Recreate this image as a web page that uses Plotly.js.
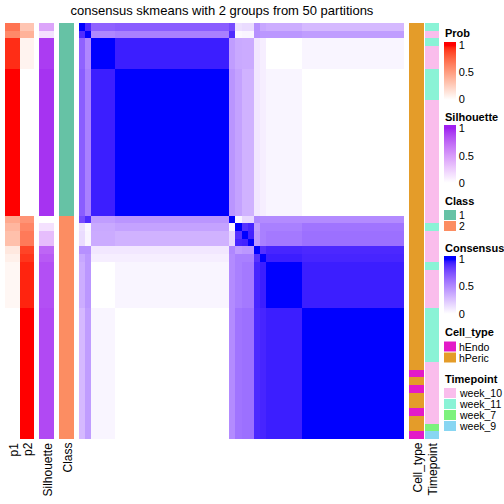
<!DOCTYPE html>
<html><head><meta charset="utf-8">
<script src="https://cdn.plot.ly/plotly-3.0.1.min.js"></script>
<style>html,body{margin:0;padding:0;background:#fff}#chart{width:504px;height:504px}</style>
</head><body><div id="chart"></div>
<script>
// ---------------- DATA ----------------
const titleText = 'consensus skmeans with 2 groups from 50 partitions';
// sample -> block group (rows/cols in displayed order)
const sampleGroup = [0,1,2,2,2,2,
  3,3,3,3,3,3,3,3,3,3,3,3,3,3,3,3,3,3,3,
  4,5,6,7,8,9,
  10,10,10,10,10,10,
  11,11,11,11,11,11,11,11,11,11,11,11,11,11,11,11,11];
// block-level consensus values (symmetric)
const groupConsensus = [
  [1.00,0.90,0.68,0.70,0.78,0.13,0.15,0.15,0.48,0.38,0.35,0.30],
  [0.90,1.00,0.52,0.55,0.90,0.03,0.04,0.04,0.48,0.45,0.45,0.42],
  [0.68,0.52,1.00,0.94,0.42,0.37,0.36,0.36,0.10,0.07,0.00,0.04],
  [0.70,0.55,0.94,1.00,0.46,0.40,0.33,0.33,0.10,0.07,0.04,0.00],
  [0.78,0.90,0.42,0.46,1.00,0.04,0.17,0.17,0.52,0.50,0.50,0.50],
  [0.13,0.03,0.37,0.40,0.04,1.00,0.88,0.92,0.42,0.55,0.55,0.60],
  [0.15,0.04,0.36,0.33,0.17,0.88,1.00,0.93,0.45,0.55,0.58,0.62],
  [0.15,0.04,0.36,0.33,0.17,0.92,0.93,1.00,0.45,0.55,0.58,0.62],
  [0.48,0.48,0.10,0.10,0.52,0.42,0.45,0.45,1.00,0.88,0.92,0.91],
  [0.38,0.45,0.07,0.07,0.50,0.55,0.55,0.55,0.88,1.00,0.94,0.92],
  [0.35,0.45,0.00,0.04,0.50,0.55,0.58,0.58,0.92,0.94,1.00,0.94],
  [0.30,0.42,0.04,0.00,0.50,0.60,0.62,0.62,0.91,0.92,0.94,1.00]
];
const groupP1 = [0.70,0.60,0.94,1.00,0.45,0.38,0.33,0.33,0.12,0.08,0.04,0.00];
const groupP2 = [0.30,0.40,0.06,0.00,0.55,0.62,0.67,0.67,0.88,0.92,0.96,1.00];
const groupSilhouette = [0.45,0.15,0.92,0.95,0.00,0.15,0.33,0.33,0.75,0.80,0.85,0.87];
const groupClass = [1,1,1,1,2,2,2,2,2,2,2,2];
const classLevels = ['1','2'];
const classColors = ['#66c2a5','#fc8d62'];
const cellTypeLevels = ['hEndo','hPeric'];
const cellTypeColors = ['#e31ac8','#e49c29'];
const cellTypeCode = [1,1,1,1,1,1,1,1,1,1,1,1,1,1,1,1,1,1,1,1,1,1,1,1,1,
  1,1,1,1,1,1,1,1,1,1,1,1,1,1,1,1,1,1,1,1,
  0,1,0,1,1,0,1,1,0];
const timepointLevels = ['week_10','week_11','week_7','week_9'];
const timepointColors = ['#fabdec','#8af3d6','#7cf27c','#88d6f2'];
const timepointCode = [1,0,1,0,0,0,1,1,1,1,
  0,0,0,0,0,0,0,0,0,0,0,0,0,0,0,0,
  1,0,0,0,0,1,0,0,0,0,0,
  1,1,1,1,1,1,1,
  0,0,0,0,0,0,0,0,
  2,3];
const legendTicks = [0,0.5,1];
const legendTickText = ['0','0.5','1'];
const annoLabelsLeft = ['p1','p2','Silhouette','Class'];
const annoLabelsRight = ['Cell_type','Timepoint'];

// ---------------- COLOUR HELPERS (LAB interpolation like colorRamp2) ----------------
function hex2rgb(h){h=h.replace('#','');return [0,2,4].map(i=>parseInt(h.substr(i,2),16));}
function s2l(c){c/=255;return c<=0.04045?c/12.92:Math.pow((c+0.055)/1.055,2.4);}
function l2s(c){c=Math.max(0,Math.min(1,c));return 255*(c<=0.0031308?12.92*c:1.055*Math.pow(c,1/2.4)-0.055);}
const Xn=0.95047,Yn=1,Zn=1.08883;
function labF(t){return t>0.008856?Math.cbrt(t):7.787*t+16/116;}
function labFinv(t){return t>0.206893?t*t*t:(t-16/116)/7.787;}
function rgb2lab(rgb){const [r,g,b]=rgb.map(s2l);
  const X=0.4124*r+0.3576*g+0.1805*b,Y=0.2126*r+0.7152*g+0.0722*b,Z=0.0193*r+0.1192*g+0.9505*b;
  const fx=labF(X/Xn),fy=labF(Y/Yn),fz=labF(Z/Zn);return [116*fy-16,500*(fx-fy),200*(fy-fz)];}
function lab2rgb(lab){const fy=(lab[0]+16)/116,fx=fy+lab[1]/500,fz=fy-lab[2]/200;
  const X=Xn*labFinv(fx),Y=Yn*labFinv(fy),Z=Zn*labFinv(fz);
  const r=3.2406*X-1.5372*Y-0.4986*Z,g=-0.9689*X+1.8758*Y+0.0415*Z,b=0.0557*X-0.2040*Y+1.0570*Z;
  return [r,g,b].map(l2s).map(Math.round);}
// colour bar range slightly wider than [0,1] so that ticks sit inside the bar like ComplexHeatmap
const ZMIN=-0.04, ZMAX=1.06;
function labScale(c0,c1,n){const a=rgb2lab(hex2rgb(c0)),b=rgb2lab(hex2rgb(c1));const out=[[0,c0]];
  for(let i=0;i<=n;i++){const t=i/n;const c=lab2rgb([0,1,2].map(k=>a[k]+(b[k]-a[k])*t));
    out.push([(t-ZMIN)/(ZMAX-ZMIN),'rgb('+c.join(',')+')']);}
  out.push([1,c1]);return out;}
function discreteScale(colors){const n=colors.length,out=[];
  colors.forEach((c,k)=>{out.push([k/n,c]);out.push([(k+1)/n,c]);});return out;}

const probScale = labScale('#ffffff','#ff0000',24);
const silScale = labScale('#ffffff','#a020f0',24);
const consScale = labScale('#ffffff','#0000ff',24);

// ---------------- GEOMETRY ----------------
const W=504,H=504;
const px=x=>x/W, py=y=>1-y/H;
const hmTop=23,hmBot=439;
const cols={p1:[5,20],p2:[20,34],sil:[39,54],cls:[59,74],hm:[79,404],ct:[409,424],tp:[425,439]};
const N=sampleGroup.length;
const idx=[...Array(N).keys()];

// expand block data to samples
const consensusZ = idx.map(i=>idx.map(j=>groupConsensus[sampleGroup[i]][sampleGroup[j]]));
const p1 = idx.map(i=>[groupP1[sampleGroup[i]]]);
const p2 = idx.map(i=>[groupP2[sampleGroup[i]]]);
const sil = idx.map(i=>[groupSilhouette[sampleGroup[i]]]);
const cls = idx.map(i=>[groupClass[sampleGroup[i]]-1]);
const ct = idx.map(i=>[cellTypeCode[i]]);
const tp = idx.map(i=>[timepointCode[i]]);

const CB_LEN=60, CB_X0=444, CB_X1=456;
function cbar(topY){return {x:px(CB_X0),xanchor:'left',xref:'paper',y:py(topY),yanchor:'top',yref:'paper',
  len:CB_LEN,lenmode:'pixels',thickness:CB_X1-CB_X0,thicknessmode:'pixels',outlinewidth:0,xpad:0,ypad:0,
  tickvals:legendTicks,ticktext:legendTickText,ticks:'',tickfont:{size:11,color:'#000'}};}
const cbTops={prob:41.7,sil:125.3,cons:256};

const traces=[
 {type:'heatmap',z:p1,x:[0],y:idx,xaxis:'x',yaxis:'y',colorscale:probScale,zmin:ZMIN,zmax:ZMAX,showscale:true,colorbar:cbar(cbTops.prob),hoverinfo:'skip'},
 {type:'heatmap',z:p2,x:[0],y:idx,xaxis:'x2',yaxis:'y',colorscale:probScale,zmin:ZMIN,zmax:ZMAX,showscale:false,hoverinfo:'skip'},
 {type:'heatmap',z:sil,x:[0],y:idx,xaxis:'x3',yaxis:'y',colorscale:silScale,zmin:ZMIN,zmax:ZMAX,showscale:true,colorbar:cbar(cbTops.sil),hoverinfo:'skip'},
 {type:'heatmap',z:cls,x:[0],y:idx,xaxis:'x4',yaxis:'y',colorscale:discreteScale(classColors),zmin:-0.5,zmax:classLevels.length-0.5,showscale:false,hoverinfo:'skip'},
 {type:'heatmap',z:consensusZ,x:idx,y:idx,xaxis:'x5',yaxis:'y',colorscale:consScale,zmin:ZMIN,zmax:ZMAX,showscale:true,colorbar:cbar(cbTops.cons),hoverinfo:'skip'},
 {type:'heatmap',z:ct,x:[0],y:idx,xaxis:'x6',yaxis:'y',colorscale:discreteScale(cellTypeColors),zmin:-0.5,zmax:cellTypeLevels.length-0.5,showscale:false,hoverinfo:'skip'},
 {type:'heatmap',z:tp,x:[0],y:idx,xaxis:'x7',yaxis:'y',colorscale:discreteScale(timepointColors),zmin:-0.5,zmax:timepointLevels.length-0.5,showscale:false,hoverinfo:'skip'}
];

const hidden={showgrid:false,zeroline:false,showticklabels:false,ticks:'',showline:false,fixedrange:true};
const layout={width:W,height:H,margin:{l:0,r:0,t:0,b:0},paper_bgcolor:'#fff',plot_bgcolor:'#fff',
  font:{family:'"Liberation Sans", Arial, Helvetica, sans-serif',color:'#000'},
  title:{text:titleText,font:{size:13,color:'#000'},x:px(222),xanchor:'center',xref:'paper',y:py(10.5),yanchor:'middle',yref:'paper'},
  yaxis:Object.assign({domain:[py(hmBot),py(hmTop)],range:[N-0.5,-0.5]},hidden),
  annotations:[],shapes:[]};
const axKeys=['p1','p2','sil','cls','hm','ct','tp'];
axKeys.forEach((k,i)=>{const name=i===0?'xaxis':'xaxis'+(i+1);
  const r=k==='hm'?[-0.5,N-0.5]:[-0.5,0.5];
  layout[name]=Object.assign({domain:[px(cols[k][0]),px(cols[k][1])],range:r,anchor:'y'},hidden);});

// white dashed tick marks across the colour bars
Object.values(cbTops).forEach(t=>{legendTicks.slice(1).forEach(v=>{
  const y=t+(ZMAX-v)/(ZMAX-ZMIN)*CB_LEN;
  layout.shapes.push({type:'line',xref:'paper',yref:'paper',x0:px(CB_X0),x1:px(CB_X1),y0:py(y),y1:py(y),
    line:{color:'rgba(255,255,255,0.75)',width:1,dash:'3px,2px'}});});});

// column labels below
const labelCols=[['p1',annoLabelsLeft[0]],['p2',annoLabelsLeft[1]],['sil',annoLabelsLeft[2]],['cls',annoLabelsLeft[3]],['ct',annoLabelsRight[0]],['tp',annoLabelsRight[1]]];
labelCols.forEach(([k,t])=>{layout.annotations.push({text:t,textangle:-90,showarrow:false,xref:'paper',yref:'paper',
  x:px((cols[k][0]+cols[k][1])/2+0.5),xanchor:'center',y:py(441.5),yanchor:'top',font:{size:12,color:'#000'},borderpad:0});});

// legend titles
const legTitles=[['Prob',33.3],['Silhouette',117.3],['Class',201],['Consensus',248.3],['Cell_type',332.3],['Timepoint',379]];
legTitles.forEach(([t,y])=>layout.annotations.push({text:'<b>'+t+'</b>',showarrow:false,xref:'paper',yref:'paper',
  x:px(444),xanchor:'left',y:py(y),yanchor:'middle',font:{size:11,color:'#000'},borderpad:0}));

// discrete legends
function discLegend(levels,colors,y0){levels.forEach((lv,k)=>{const a=y0+k*11;
  layout.shapes.push({type:'rect',xref:'paper',yref:'paper',x0:px(CB_X0),x1:px(CB_X1),y0:py(a+0.5),y1:py(a+10.5),fillcolor:colors[k],line:{width:0}});
  layout.annotations.push({text:lv,showarrow:false,xref:'paper',yref:'paper',x:px(458),xanchor:'left',y:py(a+5.5),yanchor:'middle',font:{size:10.5,color:'#000'},borderpad:0});});}
discLegend(classLevels,classColors,209.5);
discLegend(cellTypeLevels,cellTypeColors,341);
discLegend(timepointLevels,timepointColors,387.5);

Plotly.newPlot('chart',traces,layout,{staticPlot:true,displayModeBar:false});
</script></body></html>
